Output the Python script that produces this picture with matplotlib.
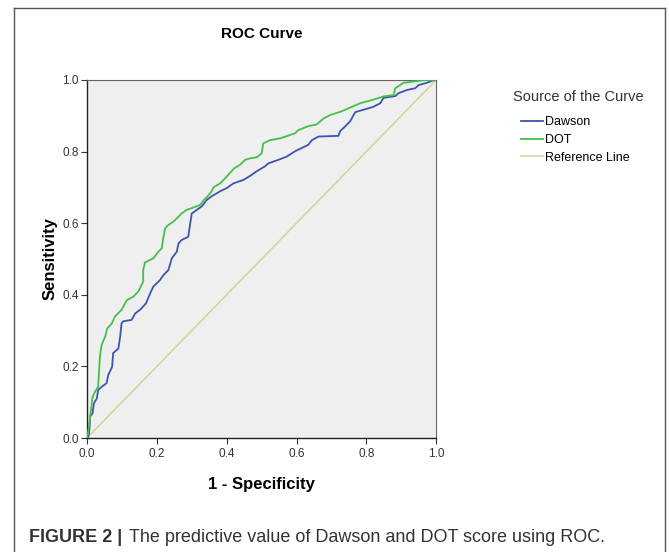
import matplotlib
matplotlib.use("Agg")
import matplotlib.pyplot as plt
from matplotlib.lines import Line2D

plt.rcParams['font.family'] = ['Liberation Sans', 'DejaVu Sans']

# ROC points (1 - specificity, sensitivity)
dawson_fpr = [0.0, 0.004, 0.007, 0.009, 0.016, 0.02, 0.028, 0.032, 0.042, 0.056, 0.061,
              0.072, 0.075, 0.09, 0.095, 0.099, 0.104, 0.128, 0.138, 0.152, 0.169, 0.181,
              0.19, 0.209, 0.219, 0.233, 0.243, 0.257, 0.262, 0.271, 0.29, 0.295, 0.3,
              0.314, 0.329, 0.343, 0.357, 0.381, 0.4, 0.419, 0.448, 0.467, 0.486, 0.51,
              0.519, 0.548, 0.572, 0.596, 0.615, 0.634, 0.644, 0.663, 0.72, 0.725, 0.739,
              0.754, 0.768, 0.792, 0.82, 0.84, 0.849, 0.883, 0.892, 0.916, 0.94, 0.95,
              0.973, 0.988, 1.0]
dawson_tpr = [0.0, 0.004, 0.022, 0.06, 0.069, 0.097, 0.11, 0.134, 0.143, 0.153, 0.176,
              0.199, 0.237, 0.25, 0.283, 0.32, 0.326, 0.33, 0.348, 0.358, 0.376, 0.404,
              0.423, 0.441, 0.455, 0.469, 0.502, 0.52, 0.543, 0.553, 0.562, 0.595, 0.627,
              0.637, 0.647, 0.665, 0.675, 0.689, 0.698, 0.711, 0.721, 0.732, 0.745, 0.759,
              0.767, 0.777, 0.786, 0.801, 0.81, 0.819, 0.832, 0.842, 0.844, 0.857, 0.87,
              0.885, 0.91, 0.917, 0.925, 0.935, 0.95, 0.955, 0.963, 0.972, 0.977, 0.986,
              0.992, 0.998, 1.0]

dot_fpr = [0.0, 0.004, 0.009, 0.016, 0.023, 0.032, 0.037, 0.042, 0.052, 0.058, 0.071,
           0.08, 0.099, 0.114, 0.133, 0.147, 0.161, 0.161, 0.166, 0.19, 0.204, 0.214,
           0.219, 0.224, 0.233, 0.247, 0.262, 0.271, 0.285, 0.305, 0.324, 0.335, 0.343,
           0.357, 0.362, 0.381, 0.4, 0.421, 0.438, 0.453, 0.467, 0.486, 0.5, 0.505,
           0.524, 0.553, 0.596, 0.605, 0.634, 0.658, 0.677, 0.696, 0.725, 0.749, 0.782,
           0.816, 0.849, 0.878, 0.883, 0.897, 0.906, 0.944, 0.973, 1.0]
dot_tpr = [0.0, 0.02, 0.059, 0.115, 0.129, 0.143, 0.227, 0.26, 0.283, 0.306, 0.32,
           0.339, 0.358, 0.385, 0.395, 0.409, 0.437, 0.469, 0.49, 0.502, 0.52, 0.53,
           0.562, 0.586, 0.595, 0.604, 0.618, 0.627, 0.637, 0.644, 0.651, 0.665, 0.672,
           0.689, 0.7, 0.711, 0.73, 0.753, 0.763, 0.777, 0.781, 0.784, 0.795, 0.823,
           0.832, 0.837, 0.851, 0.86, 0.871, 0.876, 0.892, 0.902, 0.911, 0.921, 0.935,
           0.944, 0.954, 0.958, 0.977, 0.986, 0.992, 0.997, 1.0, 1.0]

ref_line = [0.0, 1.0]
ticks = [0.0, 0.2, 0.4, 0.6, 0.8, 1.0]
series_names = ['Dawson', 'DOT', 'Reference Line']
series_colors = ['#3d55b0', '#44c04a', '#d6d09c']

fig = plt.figure(figsize=(6.69, 5.52), dpi=100)
ax = fig.add_axes([0.130, 0.2065, 0.522, 0.6486])
ax.set_facecolor('#efefef')

ax.plot(ref_line, ref_line, color=series_colors[2], lw=1.1, label=series_names[2], zorder=2)
ax.plot(dawson_fpr, dawson_tpr, color=series_colors[0], lw=1.3, label=series_names[0], zorder=3)
ax.plot(dot_fpr, dot_tpr, color=series_colors[1], lw=1.3, label=series_names[1], zorder=4)

ax.set_xlim(0, 1)
ax.set_ylim(0, 1)
ax.set_xticks(ticks)
ax.set_yticks(ticks)
ax.set_xticklabels([f"{t:.1f}" for t in ticks])
ax.set_yticklabels([f"{t:.1f}" for t in ticks])
ax.tick_params(direction='out', length=4.5, width=0.8, labelsize=8.5, colors='#333333')
ax.tick_params(axis='x', pad=2.5)
ax.tick_params(axis='y', pad=1.5)
for side in ['left', 'bottom']:
    ax.spines[side].set_color('#222222')
    ax.spines[side].set_linewidth(1.0)
for side in ['top', 'right']:
    ax.spines[side].set_color('#666666')
    ax.spines[side].set_linewidth(0.8)

ax.set_xlabel('1 - Specificity', fontsize=12, fontweight='bold', labelpad=12.5)
ax.set_ylabel('Sensitivity', fontsize=12, fontweight='bold', labelpad=3)
fig.text(0.391, 0.938, 'ROC Curve', ha='center', va='center', fontsize=11, fontweight='bold')

# legend, ordered like the original; title drawn separately
fig.text(0.767, 0.824, 'Source of the Curve', fontsize=10.5, color='#333333',
         ha='left', va='center')
handles, labels = ax.get_legend_handles_labels()
order = [labels.index(n) for n in series_names]
fig.legend([handles[i] for i in order], [labels[i] for i in order],
           loc='upper left', bbox_to_anchor=(0.779, 0.789), frameon=False,
           fontsize=9, handlelength=1.76, handletextpad=0.16,
           labelspacing=0.45, borderpad=0, borderaxespad=0)

# caption
fig.text(0.043, 0.026, 'FIGURE 2 |', fontsize=13, fontweight='bold', color='#333333',
         ha='left', va='center')
fig.text(0.193, 0.026, 'The predictive value of Dawson and DOT score using ROC.',
         fontsize=13, color='#333333', ha='left', va='center')

# outer frame (open at the bottom)
frame_kw = dict(color='#555555', lw=1.0, transform=fig.transFigure)
fig.add_artist(Line2D([0.021, 0.021], [0.0, 0.9855], **frame_kw))
fig.add_artist(Line2D([0.021, 0.994], [0.9855, 0.9855], **frame_kw))
fig.add_artist(Line2D([0.994, 0.994], [0.0, 0.9855], **frame_kw))

fig.savefig('out.png', dpi=100)
